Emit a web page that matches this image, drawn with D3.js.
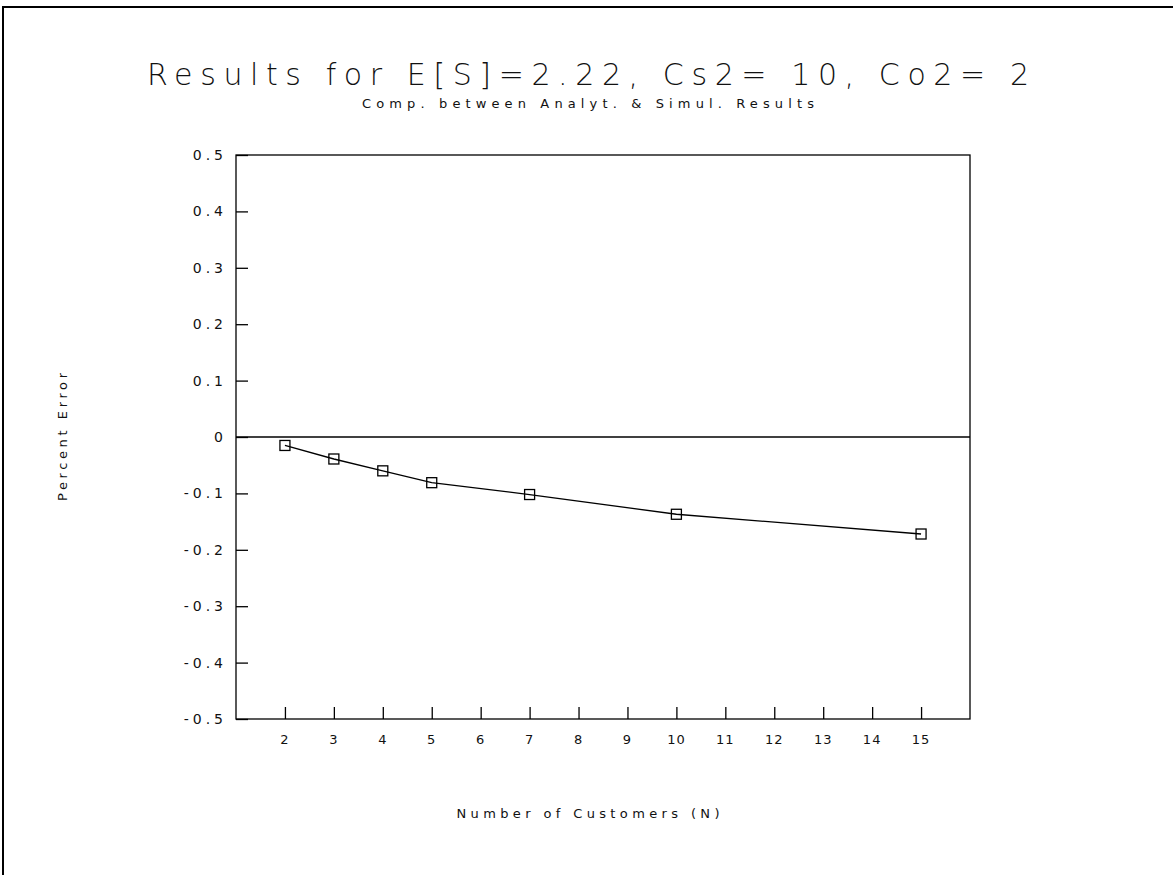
<!DOCTYPE html>
<html>
<head>
<meta charset="utf-8">
<script src="https://cdn.jsdelivr.net/npm/d3@7"></script>
<style>
  body { margin: 0; background: #fff; }
  text { font-family: "DejaVu Sans", sans-serif; fill: #111; }
</style>
</head>
<body>
<div id="chart"></div>
<script>
// data
var customers = [2, 3, 4, 5, 7, 10, 15];
var pctError = [-0.015, -0.039, -0.060, -0.081, -0.102, -0.137, -0.172];
var xTicks = [2, 3, 4, 5, 6, 7, 8, 9, 10, 11, 12, 13, 14, 15];
var yTicks = [0.5, 0.4, 0.3, 0.2, 0.1, 0, -0.1, -0.2, -0.3, -0.4, -0.5];

var W = 1173, H = 875;
var margin = {top: 155, right: 203, bottom: 156, left: 236},
    width = W - margin.left - margin.right,
    height = H - margin.top - margin.bottom;

var root = d3.select("#chart").append("svg")
    .attr("width", W)
    .attr("height", H);

// page frame (top and left only)
root.append("path")
    .attr("d", "M3,875 L3,7 L1173,7")
    .attr("fill", "none")
    .attr("stroke", "#000")
    .attr("stroke-width", 2);

// titles
root.append("text")
    .attr("x", 588).attr("y", 85)
    .attr("text-anchor", "middle")
    .attr("textLength", 882).attr("lengthAdjust", "spacing")
    .style("font-size", "30px")
    .style("font-weight", "300")
    .text("Results for E[S]=2.22, Cs2= 10, Co2= 2");

root.append("text")
    .attr("x", 588).attr("y", 108)
    .attr("text-anchor", "middle")
    .attr("textLength", 452).attr("lengthAdjust", "spacing")
    .style("font-size", "13px")
    .text("Comp. between Analyt. & Simul. Results");

var svg = root.append("g")
    .attr("transform", "translate(" + margin.left + "," + margin.top + ")");

var x = d3.scaleLinear().domain([1, 16]).range([0, width]);
var y = d3.scaleLinear().domain([-0.5, 0.5]).range([height, 0]);

// plot box
svg.append("rect")
    .attr("width", width).attr("height", height)
    .attr("fill", "none")
    .attr("stroke", "#000")
    .attr("stroke-width", 1.3);

// zero line
svg.append("line")
    .attr("x1", 0).attr("x2", width)
    .attr("y1", y(0)).attr("y2", y(0))
    .attr("stroke", "#000").attr("stroke-width", 1.3);

// Y axis: inward ticks on the left
var yAxis = svg.append("g")
    .call(d3.axisRight(y).tickValues(yTicks).tickSize(12).tickFormat(""));
yAxis.select(".domain").remove();
yAxis.selectAll("line").attr("stroke", "#000").attr("stroke-width", 1.3);

svg.append("g").selectAll("text.ylab")
    .data(yTicks)
    .enter().append("text")
    .attr("x", -9)
    .attr("y", function (d) { return y(d) + 5; })
    .attr("text-anchor", "end")
    .style("font-size", "14px")
    .style("letter-spacing", "4px")
    .text(function (d) { return d === 0 ? "0" : d3.format(".1f")(d).replace("−", "-"); });

// X axis: upward ticks from the bottom
var xAxis = svg.append("g")
    .attr("transform", "translate(0," + height + ")")
    .call(d3.axisTop(x).tickValues(xTicks).tickSize(12).tickFormat(""));
xAxis.select(".domain").remove();
xAxis.selectAll("line").attr("stroke", "#000").attr("stroke-width", 1.3);

svg.append("g").selectAll("text.xlab")
    .data(xTicks)
    .enter().append("text")
    .attr("x", function (d) { return x(d); })
    .attr("y", height + 25)
    .attr("text-anchor", "middle")
    .style("font-size", "13px")
    .style("letter-spacing", "1px")
    .text(function (d) { return d; });

// axis titles
svg.append("text")
    .attr("transform", "translate(" + (588 - margin.left) + "," + (height + 99) + ")")
    .attr("text-anchor", "middle")
    .attr("textLength", 263).attr("lengthAdjust", "spacing")
    .style("font-size", "13px")
    .text("Number of Customers (N)");

svg.append("text")
    .attr("transform", "translate(" + (67 - margin.left) + "," + y(0) + ") rotate(-90)")
    .attr("text-anchor", "middle")
    .attr("textLength", 128).attr("lengthAdjust", "spacing")
    .style("font-size", "13px")
    .text("Percent Error");

// the series
var pts = customers.map(function (c, i) { return [c, pctError[i]]; });

svg.append("path")
    .datum(pts)
    .attr("fill", "none")
    .attr("stroke", "#000")
    .attr("stroke-width", 1.3)
    .attr("d", d3.line()
        .x(function (d) { return x(d[0]); })
        .y(function (d) { return y(d[1]); }));

svg.append("g").selectAll("rect.pt")
    .data(pts)
    .enter().append("rect")
    .attr("x", function (d) { return x(d[0]) - 5; })
    .attr("y", function (d) { return y(d[1]) - 5; })
    .attr("width", 10).attr("height", 10)
    .attr("fill", "none")
    .attr("stroke", "#000")
    .attr("stroke-width", 1.3);
</script>
</body>
</html>
